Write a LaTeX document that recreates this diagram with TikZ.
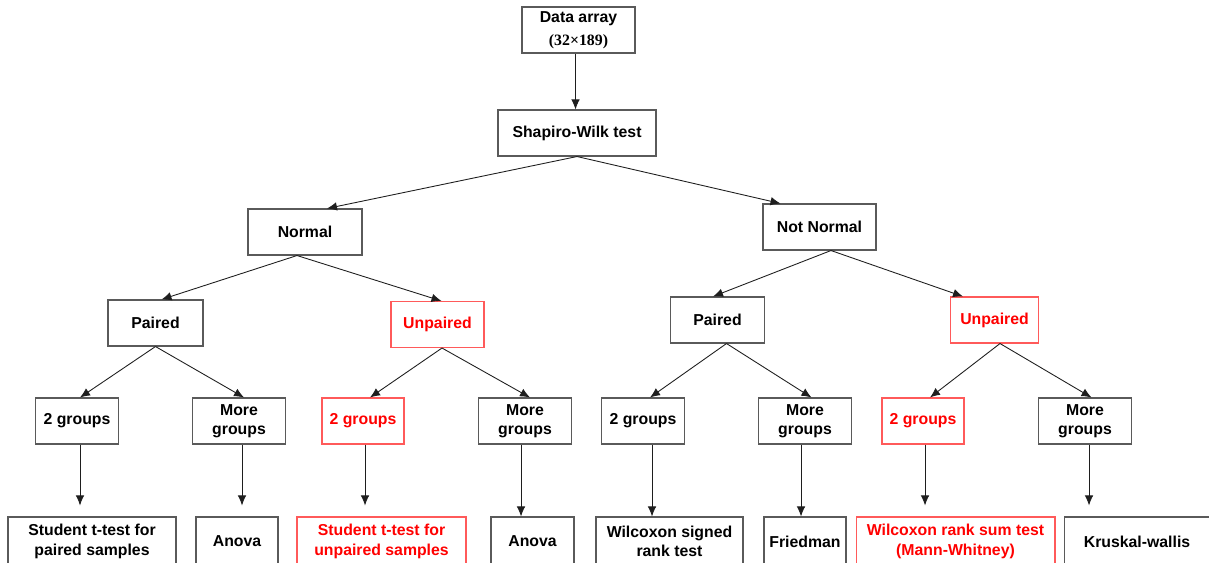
\documentclass[tikz,border=0pt]{standalone}
\usepackage{fontspec}
\setmainfont{Liberation Sans}
\newfontfamily\timesbf{Liberation Serif}
\usepackage{tikz}
\usetikzlibrary{arrows.meta,positioning}

\definecolor{boxgray}{HTML}{5A5A5A}
\definecolor{redline}{HTML}{FF5A5A}
\definecolor{redtext}{HTML}{FF0000}
\definecolor{arrgray}{HTML}{1E1E1E}

\begin{document}
\begin{tikzpicture}[x=0.02cm, y=-0.02cm,
    box/.style={draw=boxgray, line width=0.6pt, rectangle, align=center, inner sep=0pt,
      minimum height=0.92cm, font=\bfseries\fontsize{9}{11}\selectfont},
    redbox/.style={box, draw=redline, text=redtext},
    every edge/.style={draw=arrgray, line width=0.5pt, -{Latex[length=2mm,width=1.7mm]}}]
        \useasboundingbox (0,0) rectangle (1209,562);
        \clip (0,0) rectangle (1209,562);

        \node[box, minimum width=2.26cm] (A) at (578.5,30) {Data array\\[2pt]{\timesbf\bfseries (32×189)}};
        \node[box, minimum width=3.16cm] (B) at (577,133) {Shapiro-Wilk test};

        \node[box, minimum width=2.28cm] (C) at (305,232) {Normal};
        \node[box, minimum width=2.26cm] (D) at (819.5,227) {Not Normal};

        \node[box, minimum width=1.90cm] (E) at (155.5,323) {Paired};
        \node[redbox, minimum width=1.86cm] (F) at (437.5,324.5) {Unpaired};
        \node[box, minimum width=1.88cm] (G) at (717.5,320) {Paired};
        \node[redbox, minimum width=1.76cm] (H) at (994.5,320) {Unpaired};

        \node[box, minimum width=1.66cm] (I) at (77,421) {2 groups};
        \node[box, minimum width=1.86cm] (J) at (239,421) {More\\groups};
        \node[redbox, minimum width=1.64cm] (K) at (363,421) {2 groups};
        \node[box, minimum width=1.86cm] (L) at (525,421) {More\\groups};
        \node[box, minimum width=1.66cm] (M) at (643,421) {2 groups};
        \node[box, minimum width=1.86cm] (N) at (805,421) {More\\groups};
        \node[redbox, minimum width=1.64cm] (O) at (923,421) {2 groups};
        \node[box, minimum width=1.86cm] (P) at (1085,421) {More\\groups};

        % last row runs off the bottom edge
        \node[box, minimum width=3.36cm, minimum height=0.98cm] (Q) at (92,541.5) {Student t-test for\\paired samples};
        \node[box, minimum width=1.64cm, minimum height=0.98cm] (R) at (237,541.5) {Anova};
        \node[redbox, minimum width=3.38cm, minimum height=0.98cm] (S) at (381.5,541.5) {Student t-test for\\unpaired samples};
        \node[box, minimum width=1.66cm, minimum height=0.98cm] (T) at (532.5,541.5) {Anova};
        \node[box, minimum width=2.94cm, minimum height=0.98cm] (U) at (669.5,541.5) {Wilcoxon signed\\rank test};
        \node[box, minimum width=1.64cm, minimum height=0.98cm] (V) at (805,541.5) {Friedman};
        \node[redbox, minimum width=3.98cm, minimum height=0.98cm] (W) at (955.5,541.5) {Wilcoxon rank sum test\\(Mann-Whitney)};
        \node[box, minimum width=2.92cm, minimum height=0.98cm] (X) at (1137,541.5) {Kruskal-wallis};

        \path
          ([xshift=-0.06cm]A.south) edge ([xshift=-0.06cm]A.south |- B.north)

          (B.south) edge ([xshift=0.44cm]C.north)
          (B.south) edge ([xshift=-0.78cm]D.north)

          ([xshift=-0.16cm]C.south) edge ([xshift=0.12cm]E.north)
          ([xshift=-0.16cm]C.south) edge ([xshift=0.08cm]F.north)

          ([xshift=0.23cm]D.south) edge ([xshift=-0.09cm]G.north)
          ([xshift=0.23cm]D.south) edge ([xshift=-0.63cm]H.north)

          (E.south) edge ([xshift=0.06cm]I.north)
          (E.south) edge ([xshift=0.10cm]J.north)

          ([xshift=0.09cm]F.south) edge ([xshift=0.14cm]K.north)
          ([xshift=0.09cm]F.south) edge ([xshift=0.10cm]L.north)

          ([xshift=0.18cm]G.south) edge ([xshift=0.14cm]M.north)
          ([xshift=0.18cm]G.south) edge ([xshift=0.13cm]N.north)

          ([xshift=0.11cm]H.south) edge ([xshift=0.14cm]O.north)
          ([xshift=0.11cm]H.south) edge ([xshift=0.13cm]P.north);

        \path
          ([xshift=0.06cm]I.south) edge[shorten >=0.22cm] ([xshift=0.06cm]I.south |- Q.north)
          ([xshift=0.06cm]J.south) edge[shorten >=0.22cm] ([xshift=0.06cm]J.south |- R.north)
          ([xshift=0.04cm]K.south) edge[shorten >=0.22cm] ([xshift=0.04cm]K.south |- S.north)
          ([xshift=-0.08cm]L.south) edge ([xshift=-0.08cm]L.south |- T.north)
          ([xshift=0.18cm]M.south) edge ([xshift=0.18cm]M.south |- U.north)
          ([xshift=-0.08cm]N.south) edge ([xshift=-0.08cm]N.south |- V.north)
          ([xshift=0.04cm]O.south) edge[shorten >=0.22cm] ([xshift=0.04cm]O.south |- W.north)
          ([xshift=0.08cm]P.south) edge[shorten >=0.22cm] ([xshift=0.08cm]P.south |- X.north);
  \end{tikzpicture}
\end{document}
